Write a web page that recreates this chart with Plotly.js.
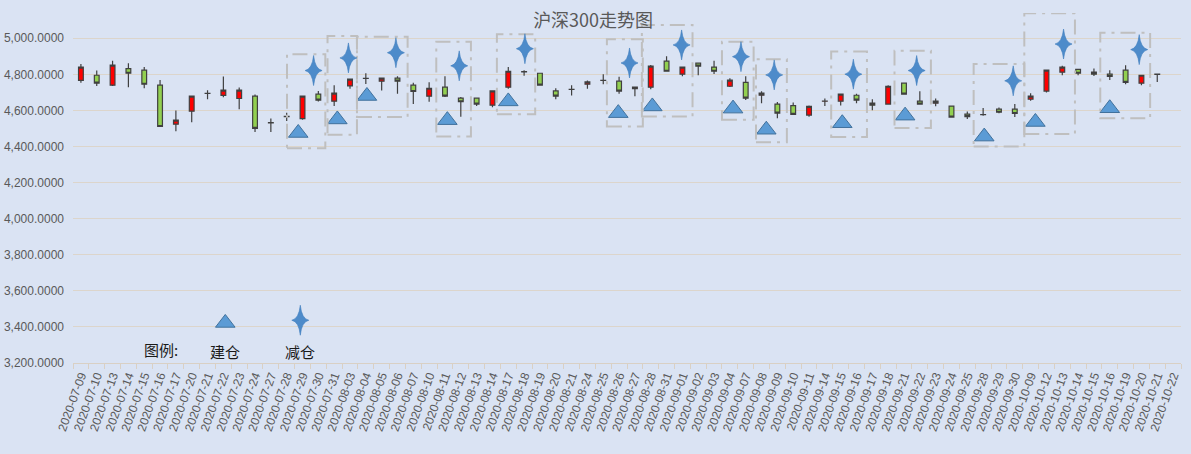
<!DOCTYPE html>
<html>
<head>
<meta charset="utf-8">
<script src="https://cdn.plot.ly/plotly-3.0.1.min.js"></script>
<style>
  body { margin: 0; background: #DAE3F3; }
</style>
</head>
<body>
<div id="chart" style="width:1191px;height:454px;"></div>
<script>
// 交易日
const dates = [
  "2020-07-09","2020-07-10","2020-07-13","2020-07-14","2020-07-15","2020-07-16","2020-07-17",
  "2020-07-20","2020-07-21","2020-07-22","2020-07-23","2020-07-24","2020-07-27","2020-07-28",
  "2020-07-29","2020-07-30","2020-07-31","2020-08-03","2020-08-04","2020-08-05","2020-08-06",
  "2020-08-07","2020-08-10","2020-08-11","2020-08-12","2020-08-13","2020-08-14","2020-08-17",
  "2020-08-18","2020-08-19","2020-08-20","2020-08-21","2020-08-24","2020-08-25","2020-08-26",
  "2020-08-27","2020-08-28","2020-08-31","2020-09-01","2020-09-02","2020-09-03","2020-09-04",
  "2020-09-07","2020-09-08","2020-09-09","2020-09-10","2020-09-11","2020-09-14","2020-09-15",
  "2020-09-16","2020-09-17","2020-09-18","2020-09-21","2020-09-22","2020-09-23","2020-09-24",
  "2020-09-25","2020-09-28","2020-09-29","2020-09-30","2020-10-09","2020-10-12","2020-10-13",
  "2020-10-14","2020-10-15","2020-10-16","2020-10-19","2020-10-20","2020-10-21","2020-10-22"
];

// 开盘 / 最高 / 最低 / 收盘
const openP = [
  4766,4795,4740,4832,4823,4740,4524,4596,4694,4683,4666,4679,4531,4566,
  4555,4690,4651,4736,4777,4762,4779,4740,4679,4729,4668,4668,4629,4729,
  4814,4806,4708,4716,4745,4766,4762,4720,4729,4873,4801,4862,4840,4734,
  4756,4684,4635,4627,4574,4651,4651,4684,4640,4635,4751,4651,4640,4624,
  4579,4576,4607,4607,4662,4707,4812,4828,4813,4801,4823,4751,4801,null
];
const highP = [
  4858,4821,4876,4862,4840,4769,4600,4679,4712,4788,4727,4688,4555,4587,
  4679,4708,4740,4773,4806,4779,4790,4753,4756,4790,4675,4668,4708,4841,
  4823,4806,4723,4740,4766,4801,4786,4729,4852,4900,4840,4862,4876,4779,
  4789,4706,4646,4644,4627,4666,4690,4692,4662,4740,4751,4706,4666,4624,
  4594,4613,4616,4635,4695,4823,4847,4828,4832,4823,4851,4795,4801,null
];
const lowP = [
  4754,4736,4736,4729,4723,4511,4485,4535,4662,4673,4607,4480,4480,4541,
  4548,4649,4625,4720,4747,4710,4692,4635,4648,4675,4565,4625,4618,4720,
  4792,4740,4662,4683,4720,4745,4692,4679,4718,4817,4790,4795,4802,4730,
  4658,4640,4557,4574,4565,4625,4627,4640,4601,4631,4690,4633,4623,4563,
  4552,4570,4585,4563,4653,4699,4795,4795,4791,4768,4745,4740,4757,null
];
const closeP = [
  4840,4751,4851,4806,4745,4511,4546,4679,4695,4712,4712,4500,4532,4567,
  4679,4657,4696,4773,4778,4779,4762,4705,4723,4679,4648,4635,4708,4817,
  4815,4740,4679,4717,4758,4767,4707,4729,4845,4817,4840,4845,4817,4768,
  4668,4696,4585,4578,4622,4652,4690,4657,4629,4734,4690,4635,4651,4563,
  4566,4577,4590,4583,4679,4823,4840,4806,4801,4788,4756,4795,4800,null
];

// 建仓 (三角) 位置：x 为交易日序号
const buyX = [13.73,16.2,18.07,23.15,27.0,33.95,36.1,41.2,43.3,48.1,52.07,57.07,60.3,65.0];
const buyY = [4475,4550,4680,4546,4650,4585,4622,4610,4493,4529,4571,4455,4536,4612];

// 减仓 (四角星)
const sellX = [14.7,16.9,19.9,23.9,28.05,34.66,37.95,41.7,43.8,48.8,52.8,58.9,62.08,66.86];
const sellY = [4821,4891,4920,4847,4942,4863,4963,4898,4797,4801,4821,4764,4968,4937];

// 虚线框
const boxX0 = [13.02,15.58,17.44,22.45,26.28,33.23,35.44,40.5,42.65,47.4,51.4,56.4,59.6,64.4];
const boxX1 = [15.44,17.44,20.64,24.64,28.7,35.5,38.64,42.5,44.6,49.66,53.7,59.6,62.8,67.55];
const boxTop = [4911,5013,5009,4981,5022,4994,5074,4981,4884,4926,4931,4858,5138,5031];
const boxBottom = [4391,4465,4563,4455,4579,4511,4566,4548,4424,4452,4502,4400,4470,4557];

// 图例
const legendX = [9.12, 13.86];
const legendY = [3422, 3437];
const yTicks = [3200,3400,3600,3800,4000,4200,4400,4600,4800,5000];

const idx = dates.map((d, i) => i);

const W = 1191, H = 454;
const margin = { l: 73, r: 10, t: 13, b: 91 };
const xRange = [-0.5, 69.5];
const yRange = [3200, 5140];
// 像素换算成坐标单位 (用于四角星的形状)
const xPerPx = (xRange[1] - xRange[0]) / (W - margin.l - margin.r);
const yPerPx = (yRange[1] - yRange[0]) / (H - margin.t - margin.b);

const triColor = "#5B9BD5";
const starColor = "#4D8BCA";

function starPath(cx, cy) {
  const w = 8.5 * xPerPx, h = 15 * yPerPx;
  const kx = 1.4 * xPerPx, ky = 1.4 * yPerPx;
  return "M" + cx + "," + (cy + h) +
    " Q" + (cx + kx) + "," + (cy + ky) + " " + (cx + w) + "," + cy +
    " Q" + (cx + kx) + "," + (cy - ky) + " " + cx + "," + (cy - h) +
    " Q" + (cx - kx) + "," + (cy - ky) + " " + (cx - w) + "," + cy +
    " Q" + (cx - kx) + "," + (cy + ky) + " " + cx + "," + (cy + h) + " Z";
}

const traces = [
  {
    type: "candlestick",
    x: idx,
    open: openP,
    high: highP,
    low: lowP,
    close: closeP,
    increasing: { fillcolor: "#FF0000", line: { color: "#404040", width: 1.2 } },
    decreasing: { fillcolor: "#92D050", line: { color: "#404040", width: 1.2 } },
    whiskerwidth: 0,
    hoverinfo: "skip",
    showlegend: false
  },
  {
    type: "scatter",
    mode: "markers",
    x: buyX.concat([legendX[0]]),
    y: buyY.concat([legendY[0]]),
    marker: { symbol: "triangle-up", size: 17, color: triColor, line: { color: "#41719C", width: 1 } },
    hoverinfo: "skip",
    showlegend: false
  }
];

const boxShapes = boxX0.map((x0, i) => ({
  type: "rect",
  xref: "x", yref: "y",
  x0: x0, x1: boxX1[i],
  y0: boxBottom[i], y1: boxTop[i],
  line: { color: "#BFBFBF", width: 2, dash: "longdashdot" },
  fillcolor: "rgba(0,0,0,0)",
  layer: "above"
}));

const starShapes = sellX.concat([legendX[1]]).map((x, i) => ({
  type: "path",
  xref: "x", yref: "y",
  path: starPath(x, sellY.concat([legendY[1]])[i]),
  fillcolor: starColor,
  line: { color: "#3F7DBD", width: 0.6 },
  layer: "above"
}));

const annotations = [
  { x: 5.05, y: 3275, text: "图例:" },
  { x: legendX[0], y: 3264, text: "建仓" },
  { x: legendX[1], y: 3264, text: "减仓" }
].map(a => Object.assign(a, {
  xref: "x", yref: "y", showarrow: false,
  font: { family: "Noto Sans CJK SC", size: 15, color: "#1a1a1a" }
}));

const layout = {
  width: W,
  height: H,
  paper_bgcolor: "#DAE3F3",
  plot_bgcolor: "#DAE3F3",
  margin: margin,
  title: {
    text: "沪深300走势图",
    x: 0.498, xanchor: "center",
    yref: "container", y: 1 - 21 / H, yanchor: "middle",
    font: { family: "Noto Sans CJK SC", size: 18, color: "#595959" }
  },
  boxgap: 0.57,
  xaxis: {
    range: xRange,
    tickmode: "array",
    tickvals: idx,
    ticktext: dates,
    tickangle: -70,
    ticks: "",
    showgrid: false,
    zeroline: false,
    showline: true,
    linecolor: "#D9D0C4",
    linewidth: 1,
    rangeslider: { visible: false },
    tickfont: { family: "Liberation Sans", size: 12, color: "#595959" },
    minor: { tickmode: "linear", tick0: -0.5, dtick: 1, ticks: "outside", ticklen: 5, tickcolor: "#D9D0C4", showgrid: false }
  },
  yaxis: {
    range: yRange,
    tickmode: "array",
    tickvals: yTicks,
    tickformat: ",.4f",
    showgrid: true,
    gridcolor: "#DCD5CB",
    gridwidth: 1,
    zeroline: false,
    showline: false,
    ticks: "",
    ticklabelstandoff: 8,
    tickfont: { family: "Liberation Sans", size: 12, color: "#595959" }
  },
  shapes: boxShapes.concat(starShapes),
  annotations: annotations
};

Plotly.newPlot("chart", traces, layout, { displayModeBar: false, staticPlot: true });
</script>
</body>
</html>
